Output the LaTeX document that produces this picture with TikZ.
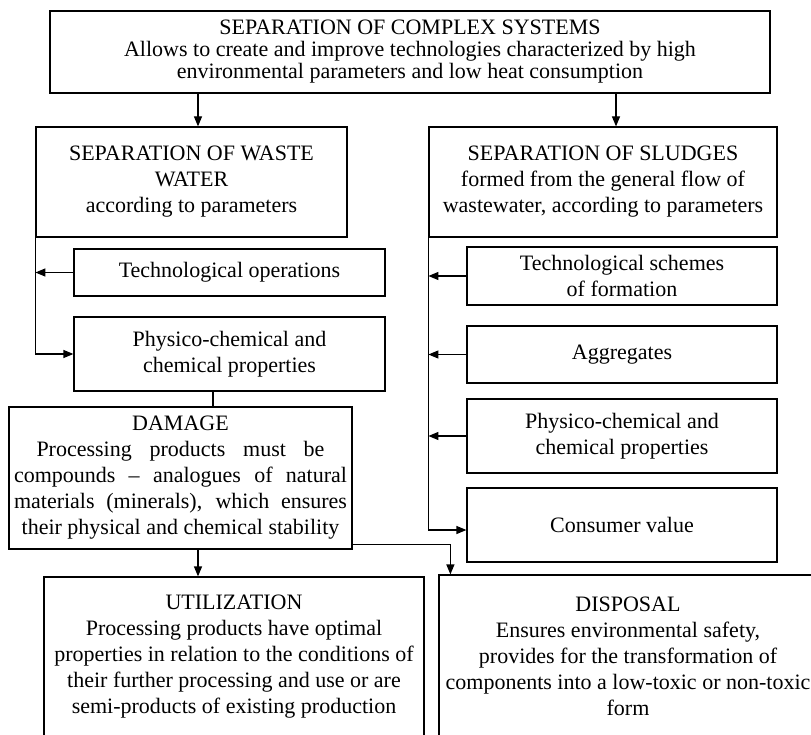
\documentclass[tikz,border=0pt]{standalone}
\usepackage{fontspec}
\setmainfont{Liberation Serif}
\usetikzlibrary{arrows.meta}
\tikzset{box/.style={draw,line width=1.2pt,align=center,inner sep=0pt},arr/.style={-{Triangle[length=10pt,width=8pt]},line width=1.2pt}}

\begin{document}
\begin{tikzpicture}[x=1pt,y=-1pt,font=\fontsize{22}{26}\selectfont]
\useasboundingbox(0,0)rectangle(811,735);
\clip(0,0)rectangle(811,735);
\node[box,minimum width=720pt,minimum height=82pt,font=\fontsize{22}{22}\selectfont](top)at(410,52){SEPARATION OF COMPLEX SYSTEMS\\Allows to create and improve technologies characterized by high\\environmental parameters and low heat consumption};
\node[box,minimum width=311pt,minimum height=110pt](ww)at(191.5,182){SEPARATION OF WASTE\\WATER\\according to parameters};
\node[box,minimum width=348pt,minimum height=110pt](sl)at(603,182){SEPARATION OF SLUDGES\\formed from the general flow of\\wastewater, according to parameters};
\node[box,minimum width=311pt,minimum height=47pt](ops)at(229.5,272.5){Technological operations};
\node[box,minimum width=311pt,minimum height=74pt](pcl)at(229.5,354){Physico-chemical and\\chemical properties};
\node[box,minimum width=310pt,minimum height=58pt](sch)at(622,276){Technological schemes\\of formation};
\node[box,minimum width=310pt,minimum height=57pt](agg)at(622,354.5){Aggregates};
\node[box,minimum width=310pt,minimum height=74pt](pcr)at(622,436){Physico-chemical and\\chemical properties};
\node[box,minimum width=310pt,minimum height=74pt](cv)at(622,525){Consumer value};
\node[box,minimum width=343pt,minimum height=142pt](dmg)at(180.5,478){DAMAGE\\\makebox[288pt][s]{Processing products must be}\\\makebox[333pt][s]{compounds – analogues of natural}\\\makebox[333pt][s]{materials (minerals), which ensures}\\their physical and chemical stability};
\node[box,minimum width=380pt,minimum height=160pt](util)at(234,657){UTILIZATION\\Processing products have optimal\\properties in relation to the conditions of\\their further processing and use or are\\semi-products of existing production};
\node[box,minimum width=378pt,minimum height=162pt](disp)at(628,656){DISPOSAL\\Ensures environmental safety,\\provides for the transformation of\\components into a low-toxic or non-toxic\\form};
% arrows
\draw[arr]([xshift=6.5pt]ww.north|-top.south)--([xshift=6.5pt]ww.north);
\draw[arr]([xshift=13pt]sl.north|-top.south)--([xshift=13pt]sl.north);
\draw[arr](ww.south west)|-(pcl.west);
\draw[arr](sl.south west)|-([yshift=-5pt]cv.west);
\draw[arr](ops.west)--(ops.west-|ww.west);
\foreach\n in{sch,agg,pcr}\draw[arr](\n.west)--(\n.west-|sl.west);
\draw[line width=1.2pt]([xshift=-16.5pt]pcl.south)--([xshift=-16.5pt]pcl.south|-dmg.north);
\draw[arr]([xshift=17.5pt]dmg.south)--([xshift=17.5pt]dmg.south|-util.north);
\draw[arr]([yshift=5pt]dmg.south east)-|([xshift=12pt]disp.north west);
\end{tikzpicture}
\end{document}
